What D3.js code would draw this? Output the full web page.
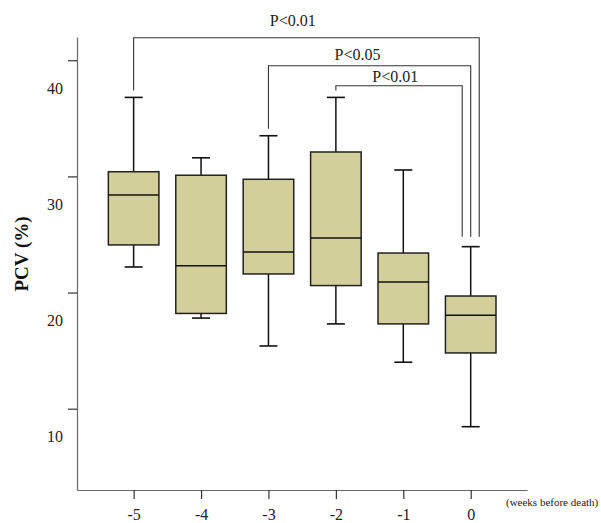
<!DOCTYPE html>
<html>
<head>
<meta charset="utf-8">
<script src="https://cdn.jsdelivr.net/npm/d3@7"></script>
<style>
  body { margin: 0; background: #fff; }
  svg { display: block; font-family: "Liberation Serif", "Times New Roman", serif; }
</style>
</head>
<body>
<svg></svg>
<script>
const width = 601;
const height = 523;

// weeks before death, with box stats
const weeks = [-5, -4, -3, -2, -1, 0];
const whiskerMax = [36.8, 31.6, 33.5, 36.8, 30.55, 23.95];
const upperQ = [30.4, 30.1, 29.75, 32.1, 23.4, 19.7];
const medians = [28.4, 22.3, 23.5, 24.7, 20.9, 18.05];
const lowerQ = [24.1, 18.2, 21.6, 20.6, 17.3, 14.8];
const whiskerMin = [22.2, 17.8, 15.4, 17.3, 14.0, 8.45];

const yTicks = [10, 20, 30, 40];

// significance brackets
const bracketFrom = [-5, -3, -2];
const bracketTo = [0, 0, 0];
const bracketLevel = [41.94, 39.53, 37.8];
const bracketText = ["P<0.01", "P<0.05", "P<0.01"];
const bracketLabelAt = [-2.64, -1.68, -1.12];
const bracketLabelLevel = [42.95, 40.02, 38.15];

const boxes = weeks.map((w, i) => ({
  week: w,
  max: whiskerMax[i],
  q3: upperQ[i],
  median: medians[i],
  q1: lowerQ[i],
  min: whiskerMin[i],
}));

const svg = d3.select("svg").attr("width", width).attr("height", height);

const x = d3.scaleLinear().domain([-5.84, 0.835]).range([77, 527]);
const y = d3.scaleLinear().domain([3, 42]).range([490, 37]);

const boxW = x(0.75) - x(0);
const capW = x(0.267) - x(0);

// y axis
const yAxis = svg
  .append("g")
  .attr("transform", `translate(${x.range()[0]},0)`)
  .call(d3.axisLeft(y).tickValues(yTicks).tickSize(9).tickSizeOuter(0));
yAxis.select(".domain").attr("stroke", "#666").attr("stroke-width", 1.2);
yAxis.selectAll(".tick line").attr("stroke", "#333").attr("stroke-width", 1.2);
yAxis
  .selectAll(".tick text")
  .attr("font-family", "Liberation Serif, serif")
  .attr("font-size", 16)
  .attr("fill", "#222")
  .attr("x", -14)
  .attr("y", 28);

// x axis
const xAxis = svg
  .append("g")
  .attr("transform", `translate(0,${y.range()[0]})`)
  .call(d3.axisBottom(x).tickValues(weeks).tickSize(9).tickSizeOuter(0));
xAxis.select(".domain").attr("stroke", "#666").attr("stroke-width", 1.2);
xAxis.selectAll(".tick line").attr("stroke", "#333").attr("stroke-width", 1.2);
xAxis
  .selectAll(".tick text")
  .attr("font-family", "Liberation Serif, serif")
  .attr("font-size", 16)
  .attr("fill", "#222")
  .attr("y", 19)
  .text((d) => String(d));

svg
  .append("text")
  .attr("x", 506)
  .attr("y", 506)
  .attr("font-size", 11)
  .attr("fill", "#222")
  .text("(weeks before death)");

svg
  .append("text")
  .attr("transform", `translate(28,254) rotate(-90)`)
  .attr("text-anchor", "middle")
  .attr("font-size", 19)
  .attr("font-weight", "bold")
  .attr("fill", "#111")
  .text("PCV (%)");

// boxes
const g = svg.append("g");
const bx = g.selectAll("g.box").data(boxes).enter().append("g").attr("class", "box");

// whiskers
bx.append("line")
  .attr("x1", (d) => x(d.week))
  .attr("x2", (d) => x(d.week))
  .attr("y1", (d) => y(d.max))
  .attr("y2", (d) => y(d.min))
  .attr("stroke", "#111")
  .attr("stroke-width", 1.5);
bx.selectAll("line.cap")
  .data((d) => [
    { week: d.week, v: d.max },
    { week: d.week, v: d.min },
  ])
  .enter()
  .append("line")
  .attr("class", "cap")
  .attr("x1", (d) => x(d.week) - capW / 2)
  .attr("x2", (d) => x(d.week) + capW / 2)
  .attr("y1", (d) => y(d.v))
  .attr("y2", (d) => y(d.v))
  .attr("stroke", "#111")
  .attr("stroke-width", 1.6);

bx.append("rect")
  .attr("x", (d) => x(d.week) - boxW / 2)
  .attr("y", (d) => y(d.q3))
  .attr("width", boxW)
  .attr("height", (d) => y(d.q1) - y(d.q3))
  .attr("fill", "#d3cf9a")
  .attr("stroke", "#222")
  .attr("stroke-width", 1.5);

bx.append("line")
  .attr("x1", (d) => x(d.week) - boxW / 2)
  .attr("x2", (d) => x(d.week) + boxW / 2)
  .attr("y1", (d) => y(d.median))
  .attr("y2", (d) => y(d.median))
  .attr("stroke", "#111")
  .attr("stroke-width", 1.5);

// brackets
const maxByWeek = new Map(boxes.map((d) => [d.week, d.max]));
const brackets = bracketFrom.map((f, i) => ({
  from: f,
  to: bracketTo[i],
  level: bracketLevel[i],
  text: bracketText[i],
  labelAt: bracketLabelAt[i],
  labelLevel: bracketLabelLevel[i],
  shift: (1 - i) * 8.5, // nested right legs sit side by side
}));

const br = svg.append("g").selectAll("g").data(brackets).enter().append("g");
br.append("path")
  .attr("fill", "none")
  .attr("stroke", "#333")
  .attr("stroke-width", 1.1)
  .attr("d", (d) => {
    const x0 = x(d.from);
    const x1 = x(d.to) + d.shift;
    const yl = y(maxByWeek.get(d.from)) - 7;
    const yr = y(maxByWeek.get(d.to)) - 10;
    return `M${x0},${yl}V${y(d.level)}H${x1}V${yr}`;
  });
br.append("text")
  .attr("x", (d) => x(d.labelAt))
  .attr("y", (d) => y(d.labelLevel))
  .attr("text-anchor", "middle")
  .attr("font-size", 16)
  .attr("fill", "#222")
  .text((d) => d.text);
</script>
</body>
</html>
